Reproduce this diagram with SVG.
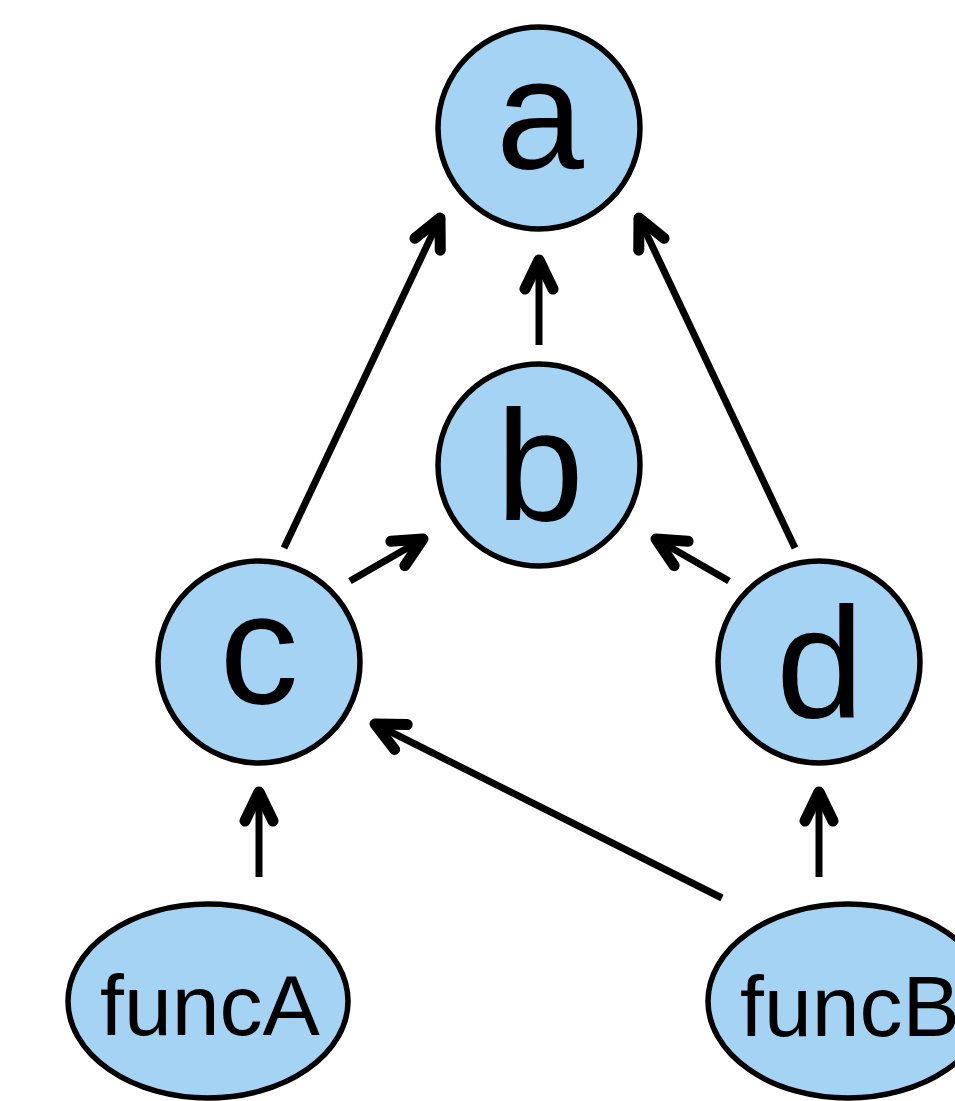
<svg xmlns="http://www.w3.org/2000/svg" width="955" height="1101" viewBox="0 0 955 1101">
  <style>
    .node { fill: #a4d3f4; stroke: #000; stroke-width: 5.5; }
    .lbl { font-family: "Liberation Sans", Arial, sans-serif; fill: #000; text-anchor: middle; }
    .big { font-size: 158px; }
    .small { font-size: 86px; }
    .edge { fill: none; stroke: #000; stroke-width: 7; marker-end: url(#arrow); }
  </style>
  <defs>
    <!-- open chevron arrowhead, sized in user units -->
    <marker id="arrow" markerUnits="userSpaceOnUse" viewBox="-40 -25 50 50" markerWidth="50" markerHeight="50" refX="0" refY="0" orient="auto" overflow="visible">
      <path d="M -29 -14 L 0 0 L -29 14" fill="none" stroke="#000" stroke-width="11" stroke-linecap="round" stroke-linejoin="round"/>
    </marker>
  </defs>

  <rect width="955" height="1101" fill="#fff"/>

  <g id="connectors">
    <path class="edge" d="M 539 345 L 539 260"/>
    <path class="edge" d="M 284 548 L 440 218"/>
    <path class="edge" d="M 795 548 L 639 218"/>
    <path class="edge" d="M 350 581 L 423 539"/>
    <path class="edge" d="M 729 581 L 656 539"/>
    <path class="edge" d="M 259 877 L 259 792"/>
    <path class="edge" d="M 819 877 L 819 792"/>
    <path class="edge" d="M 722 898 L 375 724"/>
  </g>

  <g id="node-a">
    <circle class="node" cx="539" cy="128" r="101"/>
    <text class="lbl big" x="540" y="168">a</text>
  </g>
  <g id="node-b">
    <circle class="node" cx="539" cy="465" r="101"/>
    <text class="lbl big" x="540" y="520">b</text>
  </g>
  <g id="node-c">
    <circle class="node" cx="259" cy="662" r="101"/>
    <text class="lbl big" x="259" y="703">c</text>
  </g>
  <g id="node-d">
    <circle class="node" cx="819" cy="662" r="101"/>
    <text class="lbl big" x="820" y="717">d</text>
  </g>
  <g id="node-funcA">
    <ellipse class="node" cx="208" cy="1001" rx="140" ry="97"/>
    <text class="lbl small" x="210" y="1035">funcA</text>
  </g>
  <g id="node-funcB">
    <ellipse class="node" cx="848" cy="1001" rx="140" ry="97"/>
    <text class="lbl small" x="850" y="1036">funcB</text>
  </g>
</svg>
